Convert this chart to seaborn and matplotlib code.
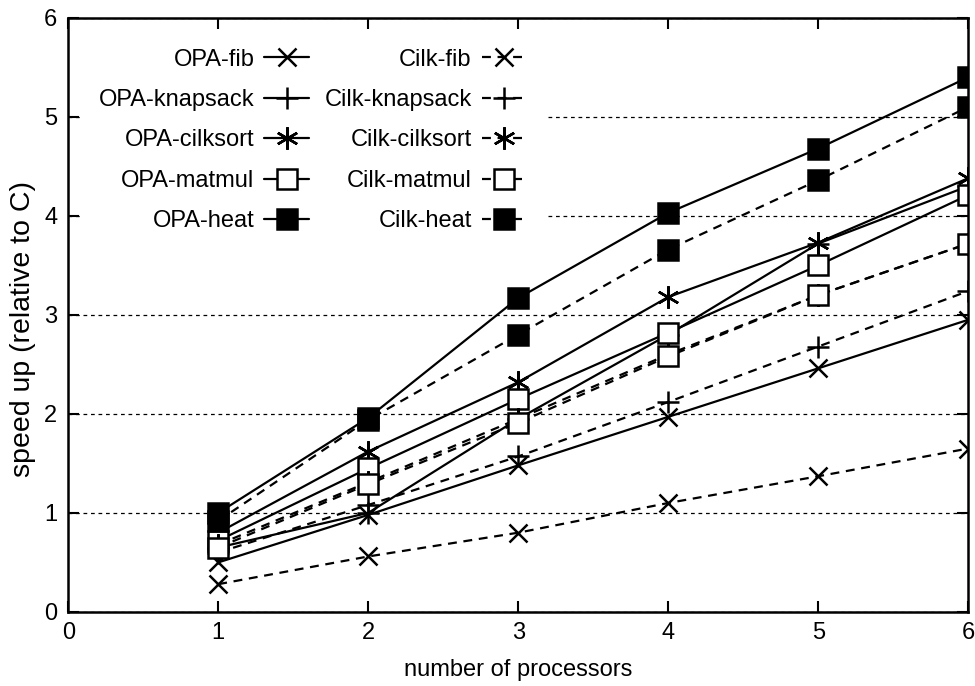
import matplotlib
matplotlib.use("Agg")
import matplotlib.pyplot as plt
import seaborn as sns
import pandas as pd

# data
procs = [1, 2, 3, 4, 5, 6]

opa_fib = [0.50, 0.98, 1.48, 1.97, 2.46, 2.95]
opa_knapsack = [0.65, 1.00, 1.95, 2.80, 3.72, 4.30]
opa_cilksort = [0.80, 1.62, 2.32, 3.18, 3.73, 4.38]
opa_matmul = [0.72, 1.45, 2.15, 2.82, 3.50, 4.21]
opa_heat = [1.00, 1.96, 3.17, 4.03, 4.68, 5.40]

cilk_fib = [0.28, 0.56, 0.80, 1.10, 1.37, 1.65]
cilk_knapsack = [0.60, 1.08, 1.57, 2.12, 2.68, 3.24]
cilk_cilksort = [0.68, 1.31, 1.95, 2.60, 3.20, 3.72]
cilk_matmul = [0.65, 1.29, 1.91, 2.58, 3.20, 3.72]
cilk_heat = [0.92, 1.94, 2.80, 3.66, 4.36, 5.10]

series = [
    ("OPA-fib", opa_fib), ("OPA-knapsack", opa_knapsack),
    ("OPA-cilksort", opa_cilksort), ("OPA-matmul", opa_matmul),
    ("OPA-heat", opa_heat),
    ("Cilk-fib", cilk_fib), ("Cilk-knapsack", cilk_knapsack),
    ("Cilk-cilksort", cilk_cilksort), ("Cilk-matmul", cilk_matmul),
    ("Cilk-heat", cilk_heat),
]

# marker style per benchmark: (marker, size, facecolor)
markers = {
    "fib": ("x", 13, "black"),
    "knapsack": ("+", 16, "black"),
    "cilksort": ((6, 2, 0), 16, "black"),
    "matmul": ("s", 14, "white"),
    "heat": ("s", 15, "black"),
}

sns.set_style("ticks")
plt.rcParams["font.family"] = ["Liberation Sans", "DejaVu Sans"]
plt.rcParams.update({"text.color": "black", "axes.labelcolor": "black",
                     "xtick.color": "black", "ytick.color": "black",
                     "axes.edgecolor": "black"})

fig, ax = plt.subplots(figsize=(9.75, 6.86), dpi=100)
fig.subplots_adjust(left=0.07, right=0.993, bottom=0.108, top=0.974)

handles = []
for name, vals in series:
    bench = name.split("-")[1]
    mk, ms, fc = markers[bench]
    ls = "-" if name.startswith("OPA") else (0, (4, 3))
    df = pd.DataFrame({"p": procs, "speedup": vals})
    sns.lineplot(data=df, x="p", y="speedup", ax=ax, color="black",
                 linestyle=ls, linewidth=1.6, marker=mk, markersize=ms,
                 markerfacecolor=fc, markeredgecolor="black",
                 markeredgewidth=1.8, errorbar=None, label=name, legend=False)
    handles.append(ax.lines[-1])

ax.set_xlim(0, 6)
ax.set_ylim(0, 6)
ax.set_xticks(range(0, 7))
ax.set_yticks(range(0, 7))
ax.set_xlabel("number of processors", fontsize=17, labelpad=11)
ax.set_ylabel("speed up (relative to C)", fontsize=20.5)
ax.yaxis.set_label_coords(-0.0355, 0.476)
ax.tick_params(direction="in", length=8, width=1.5, labelsize=17,
               top=True, right=True)
ax.tick_params(axis="x", pad=7)
ax.tick_params(axis="y", pad=8)

ax.yaxis.grid(True, linestyle=(0, (3, 3)), color="black", linewidth=0.9)
ax.set_axisbelow(True)
for sp in ax.spines.values():
    sp.set_linewidth(1.8)
    sp.set_visible(True)

leg = ax.legend(handles=handles, labels=[s[0] for s in series], ncol=2,
                markerfirst=False, loc="upper left",
                bbox_to_anchor=(0.0, 1.0), fontsize=17, frameon=True,
                framealpha=1, facecolor="white", edgecolor="none",
                fancybox=False, handlelength=1.9, handletextpad=0.42,
                columnspacing=0.64, labelspacing=0.78, borderpad=0.8)
leg.set_zorder(3)

plt.savefig("out.png", dpi=100)
